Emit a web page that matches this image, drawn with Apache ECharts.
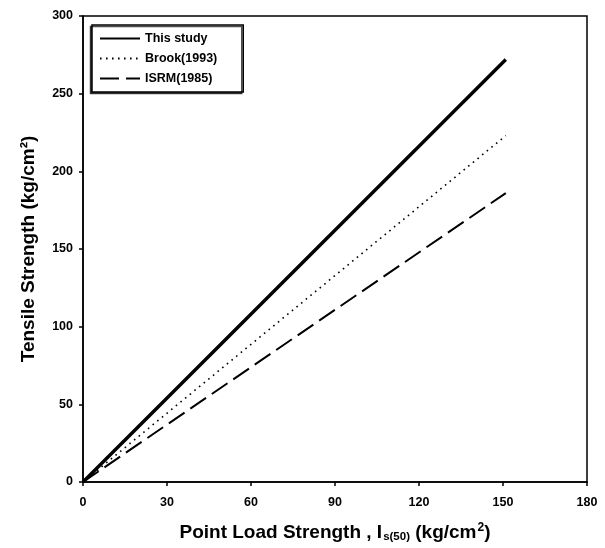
<!DOCTYPE html>
<html>
<head>
<meta charset="utf-8">
<script src="https://cdn.jsdelivr.net/npm/echarts@6/dist/echarts.min.js"></script>
<style>
  html, body { margin: 0; padding: 0; background: #fff; }
  #chart { width: 605px; height: 548px; }
</style>
</head>
<body>
<div id="chart"></div>
<script>
// Tensile strength vs point load strength relations
const seriesNames = ['This study', 'Brook(1993)', 'ISRM(1985)'];
const thisStudy = [[0, 0], [151, 272]];
const brook1993 = [[0, 0], [151, 223]];
const isrm1985 = [[0, 0], [151, 186]];
const xTicks = [0, 30, 60, 90, 120, 150, 180];
const yTicks = [0, 50, 100, 150, 200, 250, 300];

const font = 'Liberation Sans, Arial, sans-serif';
const chart = echarts.init(document.getElementById('chart'), null, { renderer: 'canvas' });

chart.setOption({
  backgroundColor: '#fff',
  animation: false,
  grid: {
    left: 83, right: 18, top: 16, bottom: 63,
    show: true, borderColor: '#000', borderWidth: 1.5, backgroundColor: 'transparent'
  },
  legend: {
    left: 92, top: 25,
    orient: 'vertical',
    data: seriesNames,
    itemWidth: 40, itemHeight: 10, itemGap: 7,
    padding: [7, 26, 7, 7],
    borderColor: '#000', borderWidth: 1.5,
    backgroundColor: '#fff',
    shadowColor: 'rgba(0,0,0,0.7)', shadowOffsetX: -1.5, shadowOffsetY: 1.5, shadowBlur: 0,
    itemStyle: { opacity: 0 },
    textStyle: { fontFamily: font, fontWeight: 'bold', fontSize: 12.5, color: '#000' }
  },
  xAxis: {
    type: 'value',
    min: xTicks[0], max: xTicks[xTicks.length - 1], interval: 30,
    name: '{a|Point Load Strength , I}{sub|s(50)}{a| (kg/cm}{sup|2}{a|)}',
    nameLocation: 'middle', nameGap: 40,
    nameTextStyle: {
      rich: {
        a: { fontFamily: font, fontWeight: 'bold', fontSize: 19, color: '#000' },
        sub: { fontFamily: font, fontWeight: 'bold', fontSize: 11.5, color: '#000', verticalAlign: 'bottom', padding: [9, 0, 0, 1] },
        sup: { fontFamily: font, fontWeight: 'bold', fontSize: 12, color: '#000', verticalAlign: 'top', padding: [0, 0, 9, 1] }
      }
    },
    axisLine: { show: true, lineStyle: { color: '#000', width: 1.5 } },
    axisTick: { show: true, inside: false, length: 4, lineStyle: { color: '#000', width: 1.5 } },
    axisLabel: { fontFamily: font, fontWeight: 'bold', fontSize: 12.5, color: '#000', margin: 14 },
    splitLine: { show: false }
  },
  yAxis: {
    type: 'value',
    min: yTicks[0], max: yTicks[yTicks.length - 1], interval: 50,
    name: 'Tensile Strength (kg/cm²)',
    nameLocation: 'middle', nameGap: 45, nameRotate: 90,
    nameTextStyle: { fontFamily: font, fontWeight: 'bold', fontSize: 19, color: '#000' },
    axisLine: { show: true, lineStyle: { color: '#000', width: 1.5 } },
    axisTick: { show: true, inside: false, length: 4, lineStyle: { color: '#000', width: 1.5 } },
    axisLabel: { fontFamily: font, fontWeight: 'bold', fontSize: 12.5, color: '#000', margin: 10 },
    splitLine: { show: false }
  },
  series: [
    {
      name: seriesNames[0], type: 'line', data: thisStudy,
      symbol: 'none', silent: true,
      lineStyle: { color: '#000', width: 3.4, type: 'solid' },
      itemStyle: { color: '#000' }
    },
    {
      name: seriesNames[1], type: 'line', data: brook1993,
      symbol: 'none', silent: true,
      lineStyle: { color: '#000', width: 1.6, type: [1.6, 4.4] },
      itemStyle: { color: '#000' }
    },
    {
      name: seriesNames[2], type: 'line', data: isrm1985,
      symbol: 'none', silent: true,
      lineStyle: { color: '#000', width: 2, type: [19, 7] },
      itemStyle: { color: '#000' }
    }
  ]
});
</script>
</body>
</html>
